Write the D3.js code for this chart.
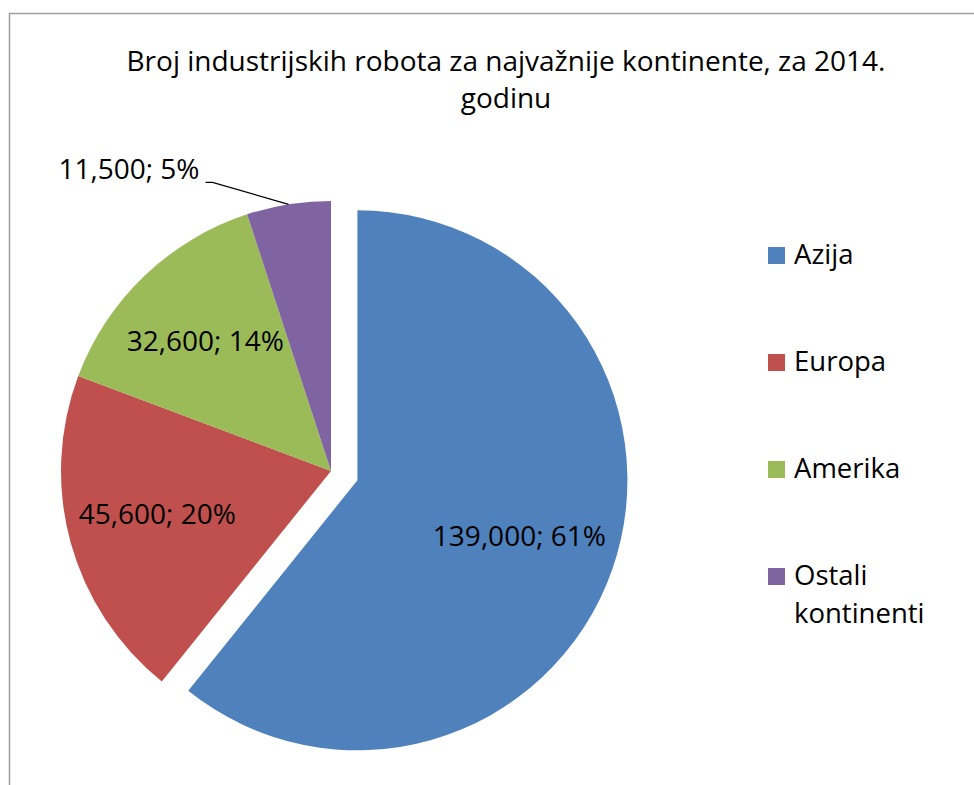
<!DOCTYPE html>
<html>
<head>
<meta charset="utf-8">
<script src="https://cdnjs.cloudflare.com/ajax/libs/d3/7.8.5/d3.min.js"></script>
<style>
  body { margin: 0; background: #fff; }
  svg text { font-family: "Open Sans", sans-serif; fill: #000; }
</style>
</head>
<body>
<div id="chart"></div>
<script>
// Chart data
var categories = ["Azija", "Europa", "Amerika", "Ostali kontinenti"];
var values = [139000, 45600, 32600, 11500];
var colors = ["#4F81BD", "#C0504D", "#9BBB59", "#8064A2"];
var titleLines = ["Broj industrijskih robota za najvažnije kontinente, za 2014.", "godinu"];

var svgWidth = 974;
var svgHeight = 785;

var svg = d3.select("#chart")
  .append("svg")
  .attr("width", svgWidth)
  .attr("height", svgHeight);

// chart frame (only top and left edges are visible in the crop)
svg.append("rect")
  .attr("x", 9.5)
  .attr("y", 13.5)
  .attr("width", 1200)
  .attr("height", 1200)
  .attr("fill", "none")
  .attr("stroke", "#a0a0a0")
  .attr("stroke-width", 1.5);

// Title
svg.append("text")
  .attr("x", 506)
  .attr("y", 71)
  .attr("text-anchor", "middle")
  .style("font-size", "28px")
  .selectAll("tspan")
  .data(titleLines)
  .enter()
  .append("tspan")
  .attr("x", 506)
  .attr("dy", (d, i) => i === 0 ? 0 : 37)
  .text(d => d);

// Pie
var cx = 331, cy = 471, radius = 270, explode = 28, labelRadius = 176;
var total = d3.sum(values);
var fmt = d3.format(",");

var data = categories.map((c, i) => ({ name: c, value: values[i], color: colors[i] }));

var pie = d3.pie().sort(null).value(d => d.value);
var arcs = pie(data);

var arc = d3.arc().innerRadius(0).outerRadius(radius);
var labelArc = d3.arc().innerRadius(labelRadius).outerRadius(labelRadius);

var pieGroup = svg.append("g")
  .attr("transform", `translate(${cx}, ${cy})`);

function offset(d) {
  // only the first slice (Azija) is pulled out
  if (d.index !== 0) return [0, 0];
  var a = (d.startAngle + d.endAngle) / 2;
  return [Math.sin(a) * explode, -Math.cos(a) * explode];
}

var slices = pieGroup.selectAll("g.slice")
  .data(arcs)
  .enter()
  .append("g")
  .attr("class", "slice")
  .attr("transform", d => `translate(${offset(d)[0]}, ${offset(d)[1]})`);

slices.append("path")
  .attr("d", arc)
  .attr("fill", d => d.data.color);

function labelText(d) {
  return fmt(d.data.value) + "; " + Math.round(d.data.value / total * 100) + "%";
}

// inside labels for the big slices
slices.filter(d => d.index < 3)
  .append("text")
  .attr("x", d => labelArc.centroid(d)[0] - 4)
  .attr("y", d => labelArc.centroid(d)[1])
  .attr("dy", "0.25em")
  .attr("text-anchor", "middle")
  .style("font-size", "28px")
  .text(labelText);

// small slice gets an outside label with a leader line
var small = slices.filter(d => d.index === 3);
small.each(function(d) {
  var g = d3.select(this);
  var a = (d.startAngle + d.endAngle) / 2;
  var edge = [Math.sin(a) * radius, -Math.cos(a) * radius];
  var elbow = [edge[0] - 76, edge[1] - 22];
  var end = [elbow[0] - 7, elbow[1]];
  g.append("polyline")
    .attr("points", [edge, elbow, end].map(p => p.join(",")).join(" "))
    .attr("fill", "none")
    .attr("stroke", "#000")
    .attr("stroke-width", 1.3);
  g.append("text")
    .attr("x", end[0] - 6)
    .attr("y", end[1] - 3)
    .attr("text-anchor", "end")
    .style("font-size", "28px")
    .text(labelText(d));
});

// Legend
var legendX = 768, legendTop = 264, legendStep = 107;

var legend = svg.append("g");

var items = legend.selectAll("g")
  .data(data)
  .enter()
  .append("g")
  .attr("transform", (d, i) => `translate(${legendX}, ${legendTop + i * legendStep})`);

items.append("rect")
  .attr("x", 0)
  .attr("y", -17)
  .attr("width", 17)
  .attr("height", 17)
  .attr("fill", d => d.color);

items.append("text")
  .attr("x", 26)
  .attr("y", 0)
  .style("font-size", "27.5px")
  .selectAll("tspan")
  .data(d => d.name.split(" "))
  .enter()
  .append("tspan")
  .attr("x", 26)
  .attr("dy", (d, i) => i === 0 ? 0 : 38)
  .text(d => d);
</script>
</body>
</html>
